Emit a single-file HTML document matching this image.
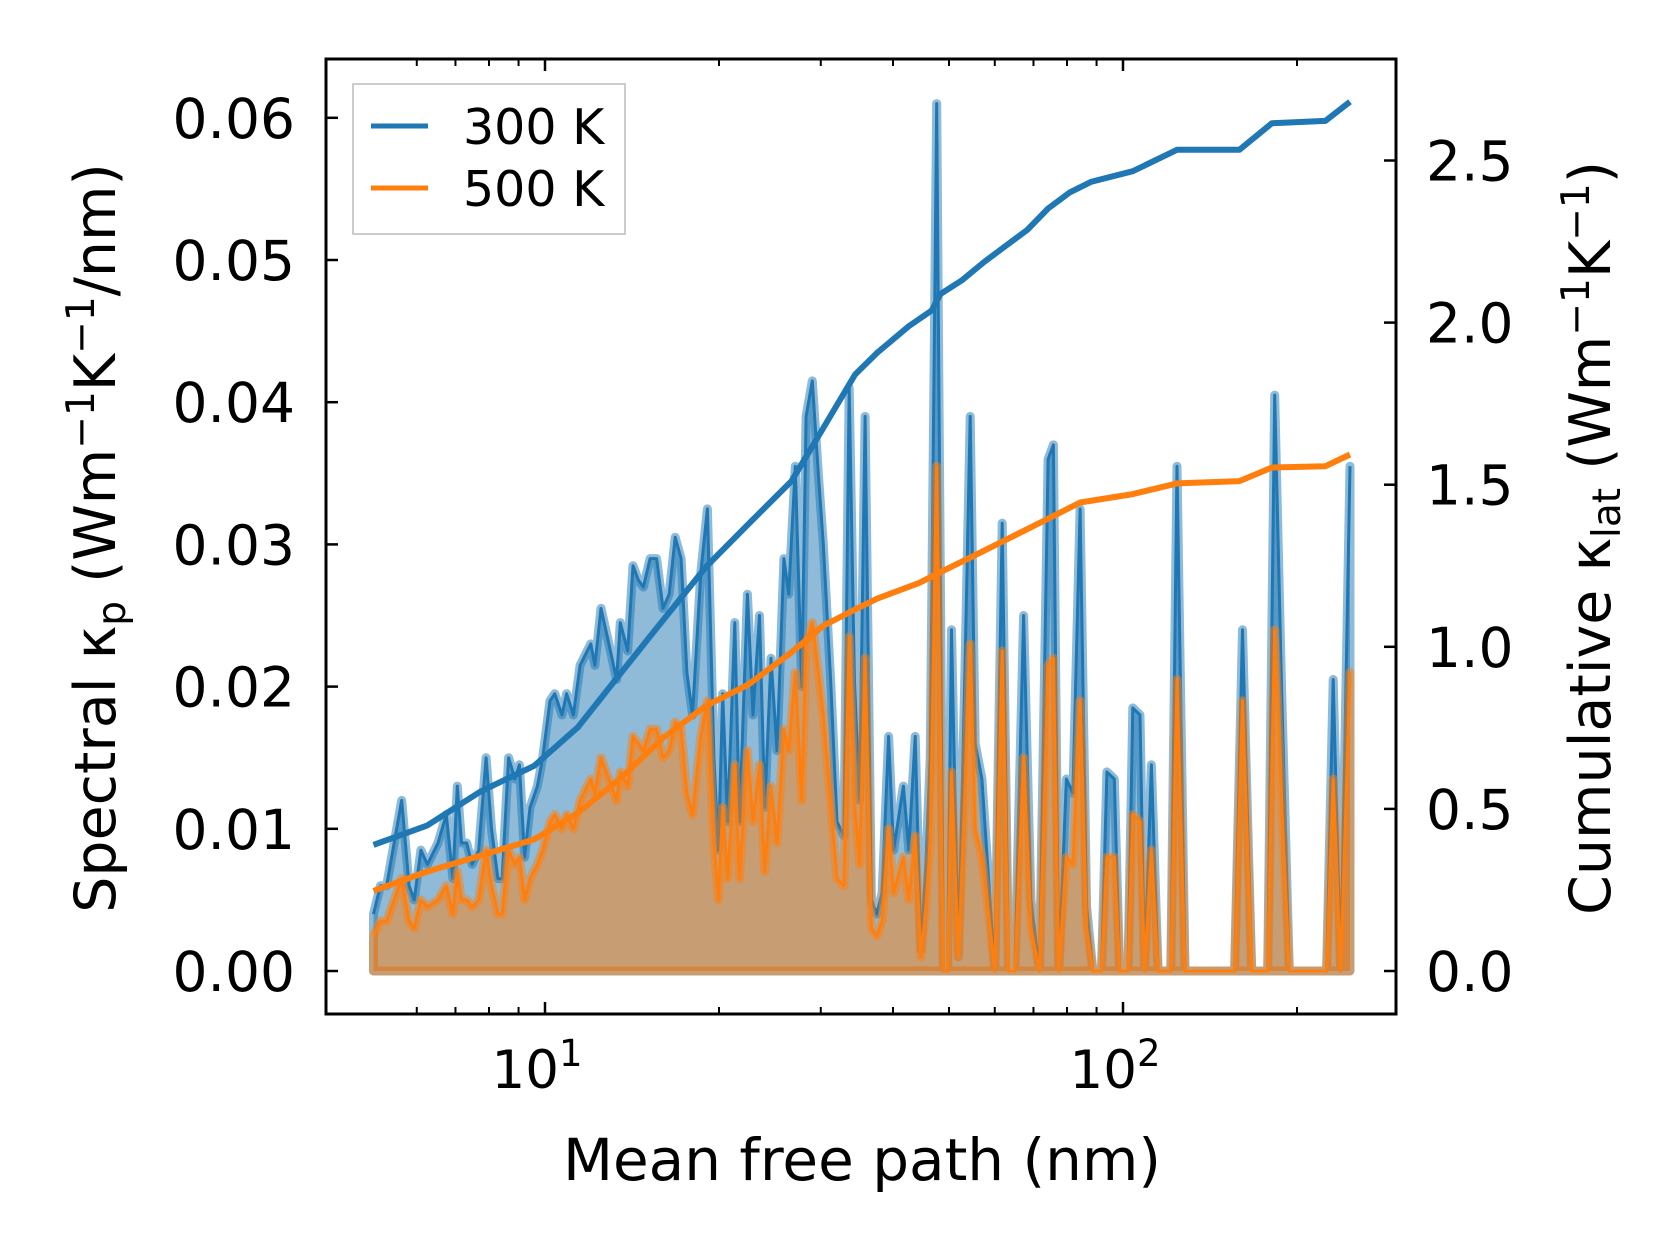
<!DOCTYPE html>
<html><head><meta charset="utf-8"><style>
html,body{margin:0;padding:0;background:#fff}
svg{display:block;font-family:"DejaVu Sans","Liberation Sans",sans-serif}
</style></head><body>
<svg id="chart" width="1679" height="1254" viewBox="0 0 1679 1254" xmlns="http://www.w3.org/2000/svg">
<rect x="0" y="0" width="1679" height="1254" fill="#fff"/>
<g id="marks"></g>
<g id="axes"></g>
<g>
<rect x="353" y="84" width="272" height="150" fill="#fff" fill-opacity="0.8" stroke="#bbb" stroke-width="1.5"/>
<line x1="371" y1="126" x2="428" y2="126" stroke="#1f77b4" stroke-width="5"/>
<text x="463" y="144" font-size="49">300 K</text>
<line x1="371" y1="188" x2="428" y2="188" stroke="#ff7f0e" stroke-width="5"/>
<text x="463" y="206" font-size="49">500 K</text>
</g>
<text x="862" y="1180" font-size="58" text-anchor="middle">Mean free path (nm)</text>
<text transform="translate(115,538) rotate(-90)" font-size="57" text-anchor="middle">Spectral κ<tspan font-size="39" dy="10">p</tspan><tspan dy="-10"> (Wm</tspan><tspan font-size="39" dy="-21">−1</tspan><tspan dy="21">K</tspan><tspan font-size="39" dy="-21">−1</tspan><tspan dy="21">/nm)</tspan></text>
<text transform="translate(1610,538) rotate(-90)" font-size="57" text-anchor="middle">Cumulative κ<tspan font-size="39" dy="10">lat</tspan><tspan dy="-10"> (Wm</tspan><tspan font-size="39" dy="-21">−1</tspan><tspan dy="21">K</tspan><tspan font-size="39" dy="-21">−1</tspan><tspan dy="21">)</tspan></text>
</svg>
<script>
const mfp = [5.05,5.19,5.32,5.65,5.82,5.94,6.10,6.26,6.53,6.75,6.93,7.05,7.17,7.32,7.48,7.68,7.91,8.08,8.29,8.43,8.65,8.87,9.03,9.22,9.42,9.70,9.91,10.2,10.4,10.7,10.9,11.2,11.5,12.0,12.2,12.5,12.9,13.3,13.5,13.9,14.2,14.5,14.8,15.2,15.6,16.0,16.4,16.8,17.2,17.6,18.0,18.6,19.1,19.6,19.95,20.3,20.7,21.3,21.7,22.4,22.9,23.5,24.0,24.6,25.2,25.9,26.4,27.1,27.8,28.3,29.0,29.7,30.3,31.2,32.0,32.9,33.6,34.3,35.0,35.8,36.7,37.5,38.3,39.3,40.1,41.7,42.6,43.7,44.7,45.6,46.4,47.6,48.9,49.7,50.5,51.9,53.2,54.4,55.5,57.0,58.2,60.0,61.8,63.4,65.0,67.3,69.3,71.7,74.2,75.8,77.4,79.8,81.9,84.3,86.5,88.7,91.8,93.8,96.6,98.7,102,104,107,109,112,115,121,124,128,156,161,167,178,183,188,194,225,231,238,247];
const k300 = [0.004,0.006,0.006,0.012,0.006,0.005,0.0085,0.0075,0.009,0.011,0.0065,0.013,0.009,0.009,0.0075,0.0085,0.015,0.010,0.0065,0.0065,0.015,0.0135,0.0145,0.008,0.0115,0.013,0.015,0.019,0.0195,0.018,0.0195,0.018,0.0215,0.023,0.0215,0.0255,0.023,0.0205,0.0245,0.0225,0.0285,0.0275,0.027,0.029,0.029,0.0255,0.0265,0.0305,0.029,0.021,0.018,0.028,0.0325,0.015,0.0085,0.0195,0.0105,0.0245,0.0105,0.0265,0.018,0.025,0.0115,0.022,0.0155,0.029,0.0265,0.0355,0.020,0.039,0.0415,0.035,0.030,0.0205,0.0105,0.0095,0.041,0.0205,0.012,0.039,0.005,0.004,0.0055,0.0165,0.0085,0.013,0.0085,0.0165,0.0015,0.0075,0.015,0.061,0.0,0.0,0.024,0.001,0.020,0.039,0.016,0.0135,0.008,0.0,0.0315,0.0,0.0,0.025,0.005,0.0,0.036,0.037,0.0,0.0135,0.0125,0.0325,0.0045,0.0,0.0,0.014,0.0135,0.0,0.0,0.0185,0.018,0.0,0.0145,0.0,0.0,0.0355,0.0,0.0,0.024,0.0,0.0,0.0405,0.020,0.0,0.0,0.0205,0.0,0.0355];
const k500 = [0.0025,0.0035,0.0035,0.0065,0.0035,0.003,0.005,0.0045,0.005,0.006,0.004,0.007,0.005,0.005,0.0045,0.005,0.0085,0.006,0.004,0.004,0.0085,0.0075,0.008,0.005,0.0065,0.0075,0.0085,0.0105,0.011,0.010,0.011,0.010,0.012,0.0135,0.0125,0.015,0.0135,0.012,0.014,0.013,0.0165,0.016,0.0155,0.017,0.017,0.015,0.0155,0.0175,0.017,0.0125,0.011,0.0165,0.019,0.009,0.005,0.0115,0.0065,0.0145,0.0065,0.0155,0.0105,0.0145,0.007,0.013,0.009,0.017,0.0155,0.021,0.012,0.023,0.0245,0.021,0.018,0.012,0.0065,0.006,0.0235,0.012,0.0075,0.022,0.003,0.0025,0.0035,0.010,0.0055,0.008,0.005,0.0095,0.001,0.0045,0.009,0.0355,0.0,0.0,0.014,0.001,0.012,0.023,0.010,0.008,0.005,0.0,0.0225,0.0,0.0,0.015,0.003,0.0,0.0215,0.022,0.0,0.008,0.0075,0.019,0.003,0.0,0.0,0.008,0.008,0.0,0.0,0.011,0.0105,0.0,0.0085,0.0,0.0,0.0205,0.0,0.0,0.019,0.0,0.0,0.024,0.012,0.0,0.0,0.0135,0.0,0.021];
const cumX = [5.05,6.26,7.74,9.58,11.4,13.5,16.0,19.0,22.5,26.7,30.3,34.4,37.5,42.6,46.7,48.3,52.7,57.5,62.6,68.3,74.2,80.8,88.0,104,124,159,181,224,247];
const cum300 = [0.389,0.449,0.554,0.633,0.752,0.917,1.082,1.247,1.379,1.511,1.675,1.840,1.906,1.989,2.038,2.088,2.131,2.187,2.236,2.286,2.352,2.401,2.434,2.467,2.533,2.533,2.615,2.622,2.681];
const cum500X = [5.05,6.26,7.74,9.58,11.4,13.5,16.0,19.0,22.5,26.7,30.3,34.4,37.5,44.4,48.3,55.1,62.6,74.2,84.3,104,124,159,181,224,247];
const cum500 = [0.247,0.307,0.356,0.406,0.488,0.594,0.719,0.818,0.884,0.983,1.065,1.115,1.148,1.197,1.230,1.280,1.329,1.395,1.445,1.471,1.504,1.511,1.553,1.557,1.593];
const leftTicks = ["0.00","0.01","0.02","0.03","0.04","0.05","0.06"];
const rightTicks = ["0.0","0.5","1.0","1.5","2.0","2.5"];

const PL=326, PR=1396, PT=59, PB=1014;
function xs(v){return 545 + (Math.log10(v)-1)*578;}
function yl(v){return 971 - v/0.01*142.2;}
function yr(v){return 971 - v*324.2;}
const NS='http://www.w3.org/2000/svg';
function mk(tag, attrs, parent){const e=document.createElementNS(NS,tag);for(const k in attrs)e.setAttribute(k,attrs[k]);parent.appendChild(e);return e;}
const marks=document.getElementById('marks'), axes=document.getElementById('axes');

function spectral(vals, color, name){
  let d='M'+xs(mfp[0])+','+yl(0);
  let l='';
  mfp.forEach((m,i)=>{d+=' L'+xs(m).toFixed(1)+','+yl(vals[i]).toFixed(1); l+=(i?' L':'M')+xs(m).toFixed(1)+','+yl(vals[i]).toFixed(1);});
  d+=' L'+xs(mfp[mfp.length-1])+','+yl(0)+' Z';
  const f=mk('path',{d:d,fill:color,'fill-opacity':0.5,stroke:color,'stroke-opacity':0.5,'stroke-width':9,'stroke-linejoin':'round'},marks);
  
  
  const ln=mk('path',{d:l,fill:'none',stroke:color,'stroke-width':3,'stroke-linejoin':'round'},marks);
  
  
}
spectral(k300,'#1f77b4','spectral-300k');
spectral(k500,'#ff7f0e','spectral-500k');

function cum(xv, vals, color, name){
  let d='';
  xv.forEach((m,i)=>{d+=(i?' L':'M')+xs(m).toFixed(1)+','+yr(vals[i]).toFixed(1);});
  const p=mk('path',{d:d,fill:'none',stroke:color,'stroke-width':6,'stroke-linejoin':'round'},marks);
  
  
}
cum(cumX,cum300,'#1f77b4','cumulative-300k');
cum(cum500X,cum500,'#ff7f0e','cumulative-500k');

const fr=mk('rect',{x:PL,y:PT,width:PR-PL,height:PB-PT,fill:'none',stroke:'#000','stroke-width':3},axes);



leftTicks.forEach(t=>{
  const y=yl(parseFloat(t));
  const tk=mk('line',{x1:PL,x2:PL+12,y1:y,y2:y,stroke:'#000','stroke-width':2.5},axes);
  
  
  const tx=mk('text',{x:295,y:y+20,'font-size':55,'text-anchor':'end'},axes);
  tx.textContent=t;
  
  
});
rightTicks.forEach(t=>{
  const y=yr(parseFloat(t));
  const tk=mk('line',{x1:PR-12,x2:PR,y1:y,y2:y,stroke:'#000','stroke-width':2.5},axes);
  
  
  const tx=mk('text',{x:1426,y:y+20,'font-size':55,'text-anchor':'start'},axes);
  tx.textContent=t;
  
  
});
const minors=[6,7,8,9,20,30,40,50,60,70,80,90,200];
minors.forEach(v=>{
  const x=xs(v);
  [[PB,PB-7],[PT,PT+7]].forEach(p=>{
    const tk=mk('line',{x1:x,x2:x,y1:p[0],y2:p[1],stroke:'#000','stroke-width':2},axes);
    
    
  });
});
[[10,'1'],[100,'2']].forEach(m=>{
  const x=xs(m[0]);
  [[PB,PB-12],[PT,PT+12]].forEach(p=>{
    const tk=mk('line',{x1:x,x2:x,y1:p[0],y2:p[1],stroke:'#000','stroke-width':2.5},axes);
    
    
  });
  const tx=mk('text',{x:x-8,y:1088,'font-size':53,'text-anchor':'middle'},axes);
  
  
  tx.appendChild(document.createTextNode('10'));
  const ts=mk('tspan',{'font-size':37,dy:-22},tx);
  ts.textContent=m[1];
});
</script>
</body></html>
